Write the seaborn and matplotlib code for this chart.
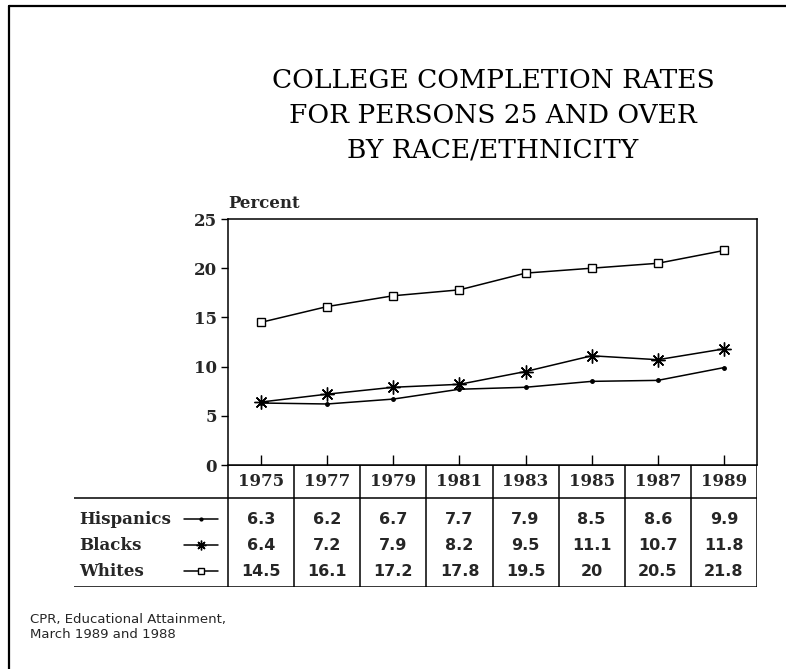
import matplotlib
matplotlib.use("Agg")
import matplotlib.pyplot as plt
from matplotlib.lines import Line2D
import numpy as np
import pandas as pd
import seaborn as sns

# ---- data -------------------------------------------------------------
years = ["1975", "1977", "1979", "1981", "1983", "1985", "1987", "1989"]
hispanics = [6.3, 6.2, 6.7, 7.7, 7.9, 8.5, 8.6, 9.9]
blacks = [6.4, 7.2, 7.9, 8.2, 9.5, 11.1, 10.7, 11.8]
whites = [14.5, 16.1, 17.2, 17.8, 19.5, 20, 20.5, 21.8]
groups = ["Hispanics", "Blacks", "Whites"]
y_ticks = [0, 5, 10, 15, 20, 25]

title_lines = ["COLLEGE COMPLETION RATES",
               "FOR PERSONS 25 AND OVER",
               "BY RACE/ETHNICITY"]
source_lines = ["CPR, Educational Attainment,", "March 1989 and 1988"]

series = {"Hispanics": hispanics, "Blacks": blacks, "Whites": whites}
df = pd.DataFrame(
    [(g, i, v) for g in groups for i, v in enumerate(series[g])],
    columns=["group", "pos", "rate"],
)

# ---- figure / pixel helpers --------------------------------------------
W, H = 786, 669
sns.set_theme(style="white")
plt.rcParams["font.family"] = ["DejaVu Sans"]
fig = plt.figure(figsize=(W / 100, H / 100), dpi=100)
fig.patch.set_facecolor("white")


def fx(x):
    return x / W


def fy(y):
    return 1 - y / H


SERIF = "DejaVu Serif"
SANS = "DejaVu Sans"

# outer frame (top and left edges)
fig.add_artist(Line2D([fx(9), fx(786)], [fy(6), fy(6)], color="black", lw=1.6))
fig.add_artist(Line2D([fx(9), fx(9)], [fy(6), fy(669)], color="black", lw=1.6))

# title
for k, line in enumerate(title_lines):
    fig.text(fx(493), fy(81 + 34.5 * k), line, ha="center", va="center",
             fontsize=19, family=SERIF, color="black")

# ---- line chart --------------------------------------------------------
L, R, T, B = 228, 757, 219, 465
ax = fig.add_axes([fx(L), fy(B), fx(R - L), (B - T) / H])

marker_style = {
    "Hispanics": dict(marker="o", markersize=2.5, markerfacecolor="black"),
    "Blacks": dict(marker=(8, 2, 0), markersize=10),
    "Whites": dict(marker="s", markersize=6, markerfacecolor="white"),
}
for g in groups:
    sns.lineplot(data=df[df["group"] == g], x="pos", y="rate", ax=ax,
                 color="black", linewidth=1.1, markeredgecolor="black",
                 markeredgewidth=1.0, legend=False, **marker_style[g])

ax.set_xlim(-0.5, len(years) - 0.5)
ax.set_ylim(0, 25)
ax.set_xticks(range(len(years)))
ax.set_yticks(y_ticks)
ax.set_yticklabels([str(v) for v in y_ticks], family=SERIF,
                   fontweight="bold", fontsize=12)
ax.tick_params(axis="x", direction="in", length=7, width=1,
               labelbottom=False, bottom=True, color="black")
ax.tick_params(axis="y", direction="out", length=5, width=1,
               left=True, pad=3, color="black")
ax.set_xlabel("")
ax.set_ylabel("")
for sp in ax.spines.values():
    sp.set_color("black")
    sp.set_linewidth(1.1)

fig.text(fx(L), fy(203), "Percent", ha="left", va="center",
         family=SERIF, fontweight="bold", fontsize=12)

# ---- data table under the chart ----------------------------------------
TL, TB = 74, 587
unit = (R - L) / len(years)
x_left = -0.5 - (L - TL) / unit
tab = fig.add_axes([fx(TL), fy(TB), fx(R - TL), (TB - B) / H])
tab.set_xlim(x_left, len(years) - 0.5)
tab.set_ylim(TB, B)
tab.axis("off")

lk = dict(color="black", lw=1.1, solid_capstyle="butt")
tab.plot([-0.5, len(years) - 0.5], [B, B], **lk)
tab.plot([x_left, len(years) - 0.5], [498, 498], **lk)
tab.plot([x_left, len(years) - 0.5], [TB, TB], **lk)
for k in range(len(years) + 1):
    tab.plot([-0.5 + k, -0.5 + k], [B, TB], **lk)

for i, yr in enumerate(years):
    tab.text(i, 482, yr, ha="center", va="center", family=SERIF,
             fontweight="bold", fontsize=12)

row_y = [519, 545, 571]
key_x0 = -0.5 - (L - 184) / unit
key_x1 = -0.5 - (L - 218) / unit
key_size = {"Hispanics": 2.0, "Blacks": 7, "Whites": 4.5}
for g, yy in zip(groups, row_y):
    tab.text(x_left + 5 / unit, yy, g, ha="left", va="center", family=SERIF,
             fontweight="bold", fontsize=12)
    tab.plot([key_x0, key_x1], [yy, yy], color="black", lw=1.1)
    ks = dict(marker_style[g])
    ks["markersize"] = key_size[g]
    tab.plot([(key_x0 + key_x1) / 2], [yy], color="black",
             markeredgecolor="black", markeredgewidth=1.0,
             linestyle="none", **ks)
    for i, v in enumerate(series[g]):
        tab.text(i, yy, f"{v:g}", ha="center", va="center", family=SANS,
                 fontweight="bold", fontsize=11.5)

# source note
for k, line in enumerate(source_lines):
    fig.text(fx(30), fy(620 + 14 * k), line, ha="left", va="center",
             family=SANS, fontsize=9.5)

fig.savefig("out.png", dpi=100, facecolor="white")
